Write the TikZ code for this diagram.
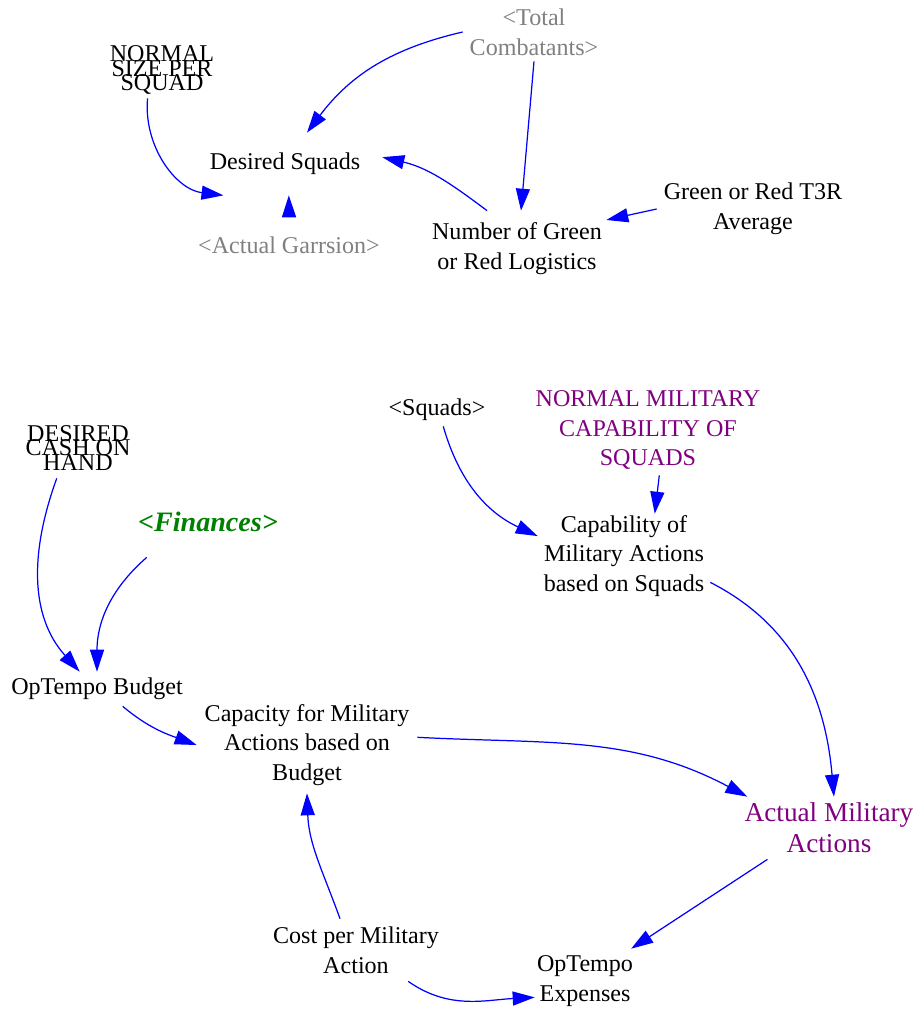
\documentclass[tikz,border=0pt]{standalone}
\usepackage{fontspec}
\setmainfont{Liberation Serif}
\usetikzlibrary{arrows.meta}
\definecolor{shadowgray}{RGB}{128,128,128}
\definecolor{constpurple}{RGB}{128,0,128}
\definecolor{lookgreen}{RGB}{0,128,0}

\begin{document}
\begin{tikzpicture}[
    x=0.02cm, y=0.02cm,
    font=\fontsize{13.7}{17}\selectfont,
    var/.style={align=center, inner sep=0pt},
    shadow/.style={var, text=shadowgray},
    const/.style={var, text=constpurple},
    link/.style={-{Triangle[length=12.5pt, width=8pt]}, draw=blue, line width=0.7pt}
  ]
    \useasboundingbox (0,0) rectangle (914,-1009);

    \node[shadow, minimum width=2.84cm, minimum height=1.16cm] (tot) at (534,-32) {<Total\\Combatants>};
    \node[var, minimum width=2.4cm, minimum height=1.12cm] (nsps) at (162,-70) {NORMAL\\[-9pt]SIZE PER\\[-9pt]SQUAD};
    \node[var, minimum width=3.88cm, minimum height=1.24cm] (ds) at (285,-164) {Desired Squads};
    \node[shadow, minimum width=3.56cm, minimum height=1.12cm] (ag) at (289,-245) {<Actual Garrsion>};
    \node[var, minimum width=3.56cm, minimum height=1.52cm] (ngl) at (517,-249) {Number of Green\\or Red Logistics};
    \node[var, minimum width=3.84cm, minimum height=1cm] (t3r) at (753,-209) {Green or Red T3R\\Average};

    \node[var, minimum width=2cm, minimum height=0.64cm] (sq) at (437,-410) {<Squads>};
    \node[const, minimum width=4.64cm, minimum height=1.8cm] (nmc) at (648,-430) {NORMAL MILITARY\\CAPABILITY OF\\SQUADS};
    \node[var, minimum width=3.44cm, minimum height=1.68cm] (cap) at (624,-556) {Capability of\\Military Actions\\based on Squads};
    \node[var, minimum width=2.24cm, minimum height=1.2cm] (dch) at (78,-448) {DESIRED\\[-9pt]CASH ON\\[-9pt]HAND};
    \node[var, text=lookgreen, font=\fontsize{16}{19}\selectfont\bfseries\itshape, minimum width=2.88cm, minimum height=1.4cm] (fin) at (208,-522) {<Finances>};
    \node[var, minimum width=3.6cm, minimum height=0.68cm] (ob) at (97,-689) {OpTempo Budget};
    \node[var, minimum width=4.4cm, minimum height=1.92cm] (cb) at (307,-745) {Capacity for Military\\Actions based on\\Budget};
    \node[const, font=\fontsize{15.5}{17.6}\selectfont, minimum width=3.32cm, minimum height=1.24cm] (ama) at (829,-828) {Actual Military\\Actions};
    \node[var, minimum width=3.32cm, minimum height=1.24cm] (cpm) at (356,-950) {Cost per Military\\Action};
    \node[var, minimum width=2cm, minimum height=1.28cm] (oe) at (585,-981) {OpTempo\\Expenses};

    \draw[link] (tot.west) to[out=193, in=53] (ds.55);
    \draw[link] (tot.south) -- (ngl.84);
    \draw[link] (nsps.-117) to[out=-95, in=173] (ds.-153);
    \draw[link] (ngl.128) to[out=143, in=-13] (ds.4);
    \draw[link] (ag.north) -- (ds.-83);
    \draw[link] (t3r.west) -- (ngl.18);
    \draw[link] (dch.-125) to[out=-110, in=132] (ob.135);
    \draw[link] (fin.-150) to[out=-139, in=90] (ob.north);
    \draw[link] (ob.-34) to[out=-40, in=160] (cb.west);
    \draw[link] (cb.4) to[out=-3, in=152] (ama.159);
    \draw[link] (sq.-69) to[out=-74, in=155] (cap.167);
    \draw[link] (nmc.-76) -- (cap.54);
    \draw[link] (cap.-17) to[out=-27, in=95] (ama.81);
    \draw[link] (ama.-153) -- (oe.35);
    \draw[link] (cpm.117) to[out=110, in=-88] (cb.south);
    \draw[link] (cpm.-31) to[out=-35, in=183] (oe.-162);
\end{tikzpicture}
\end{document}
